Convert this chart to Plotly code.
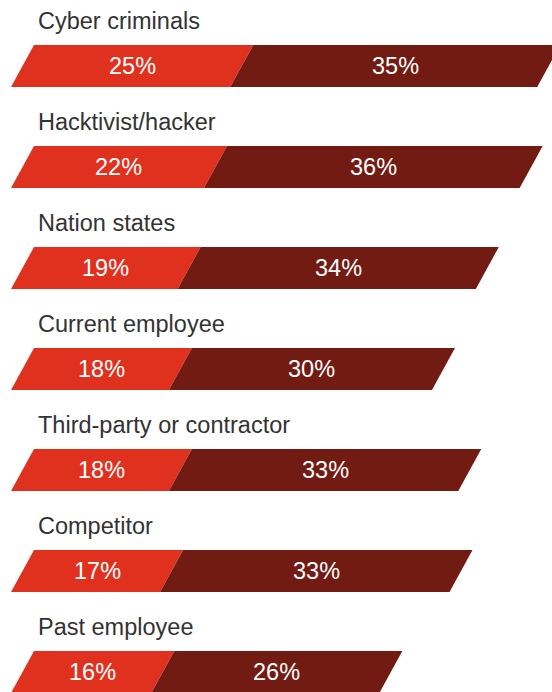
import plotly.graph_objects as go

# ---- data ----
categories = [
    "Cyber criminals",
    "Hacktivist/hacker",
    "Nation states",
    "Current employee",
    "Third-party or contractor",
    "Competitor",
    "Past employee",
]
first_values = [25, 22, 19, 18, 18, 17, 16]
second_values = [35, 36, 34, 30, 33, 33, 26]

# ---- style / layout constants ----
RED = "#E0311F"
DARK = "#721B12"
TEXT = "#333333"
FONT = "Liberation Sans, Arial, Helvetica, sans-serif"
W, H = 552, 692
PX_PER_UNIT = 8.77      # pixels per percentage point
LEFT_PX = 11            # pixel x of value 0 (bottom edge)
ROW_PX = 101            # vertical spacing between bars
FIRST_CENTER = 66       # pixel y of first bar centre
SLANT = 23 / PX_PER_UNIT
HALF = 21 / ROW_PX
LABEL_X = (36 - LEFT_PX) / PX_PER_UNIT
LABEL_DY = 45 / ROW_PX

fig = go.Figure()
annotations = []
for i, (cat, a, b) in enumerate(zip(categories, first_values, second_values)):
    for start, end, color in [(0, a, RED), (a, a + b, DARK)]:
        fig.add_trace(go.Scatter(
            x=[start, end, end + SLANT, start + SLANT, start],
            y=[i + HALF, i + HALF, i - HALF, i - HALF, i + HALF],
            fill="toself", fillcolor=color, mode="lines",
            line=dict(width=0, color=color),
            hoverinfo="skip", showlegend=False,
        ))
        annotations.append(dict(
            x=(start + end) / 2 + SLANT / 2, y=i, xref="x", yref="y",
            text=f"{end - start}%", showarrow=False,
            xanchor="center", yanchor="middle",
            font=dict(family=FONT, size=23.5, color="white"),
        ))
    annotations.append(dict(
        x=LABEL_X, y=i - LABEL_DY, xref="x", yref="y",
        text=cat, showarrow=False, xanchor="left", yanchor="middle",
        font=dict(family=FONT, size=23.5, color=TEXT),
    ))

fig.update_layout(
    width=W, height=H,
    margin=dict(l=0, r=0, t=0, b=0),
    paper_bgcolor="white", plot_bgcolor="white",
    annotations=annotations,
    xaxis=dict(range=[-LEFT_PX / PX_PER_UNIT, (W - LEFT_PX) / PX_PER_UNIT],
               visible=False, fixedrange=True),
    yaxis=dict(range=[(H - FIRST_CENTER) / ROW_PX, -FIRST_CENTER / ROW_PX],
               visible=False, fixedrange=True),
)

fig.write_html(
    "out.html",
    config={"displayModeBar": False},
    post_script="document.body.style.margin='0';document.body.style.overflow='hidden';",
)
